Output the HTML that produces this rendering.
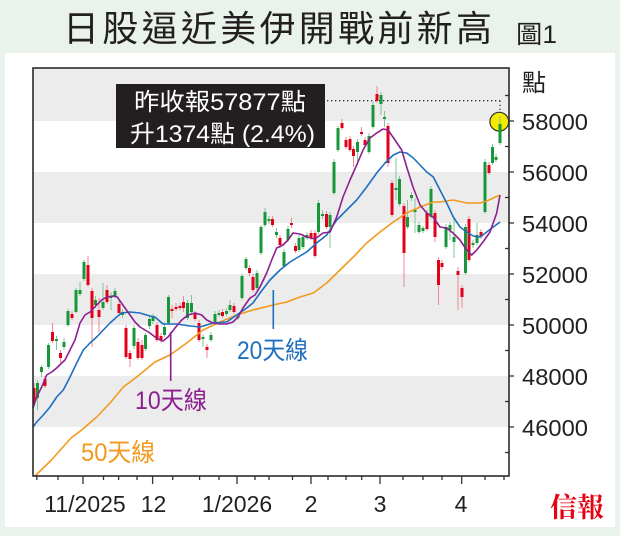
<!DOCTYPE html>
<html><head><meta charset="utf-8"><style>
html,body{margin:0;padding:0;background:#e9f3eb;}
svg{display:block;}
text{font-family:"Liberation Sans","Noto Sans CJK TC",sans-serif;}
</style></head><body>
<svg width="620" height="536" viewBox="0 0 620 536" xmlns="http://www.w3.org/2000/svg">
<rect x="0" y="0" width="620" height="536" fill="#e9f3eb"/>
<text x="63" y="41" font-size="36" fill="#231f20" textLength="429" lengthAdjust="spacing">日股逼近美伊開戰前新高</text>
<text x="516" y="43" font-size="25" fill="#231f20" textLength="41" lengthAdjust="spacingAndGlyphs">圖1</text>
<rect x="5" y="53" width="610" height="474" fill="#ffffff"/>
<!-- bands -->
<rect x="33" y="68" width="476" height="53" fill="#ebeceb"/>
<rect x="33" y="172" width="476" height="51" fill="#ebeceb"/>
<rect x="33" y="274" width="476" height="51" fill="#ebeceb"/>
<rect x="33" y="376" width="476" height="51" fill="#ebeceb"/>
<!-- ticks y -->
<g stroke="#333" stroke-width="1.3">
<line x1="509" y1="121" x2="514" y2="121"/><line x1="509" y1="172" x2="514" y2="172"/><line x1="509" y1="223" x2="514" y2="223"/><line x1="509" y1="274" x2="514" y2="274"/><line x1="509" y1="325" x2="514" y2="325"/><line x1="509" y1="376" x2="514" y2="376"/><line x1="509" y1="427" x2="514" y2="427"/>
<line x1="505" y1="95.5" x2="509" y2="95.5"/><line x1="505" y1="146.5" x2="509" y2="146.5"/><line x1="505" y1="197.5" x2="509" y2="197.5"/><line x1="505" y1="248.5" x2="509" y2="248.5"/><line x1="505" y1="299.5" x2="509" y2="299.5"/><line x1="505" y1="350.5" x2="509" y2="350.5"/><line x1="505" y1="401.5" x2="509" y2="401.5"/><line x1="505" y1="452.5" x2="509" y2="452.5"/>
<!-- x ticks -->
<line x1="83" y1="476" x2="83" y2="484"/><line x1="152.6" y1="476" x2="152.6" y2="484"/><line x1="237" y1="476" x2="237" y2="484"/><line x1="311" y1="476" x2="311" y2="484"/><line x1="380" y1="476" x2="380" y2="484"/><line x1="461.7" y1="476" x2="461.7" y2="484"/>
<line x1="36.8" y1="476" x2="36.8" y2="480"/><line x1="58" y1="476" x2="58" y2="480"/><line x1="103.5" y1="476" x2="103.5" y2="480"/><line x1="118.6" y1="476" x2="118.6" y2="480"/><line x1="137" y1="476" x2="137" y2="480"/><line x1="172.7" y1="476" x2="172.7" y2="480"/><line x1="199.6" y1="476" x2="199.6" y2="480"/><line x1="219" y1="476" x2="219" y2="480"/><line x1="255" y1="476" x2="255" y2="480"/><line x1="269" y1="476" x2="269" y2="480"/><line x1="292.5" y1="476" x2="292.5" y2="480"/><line x1="328" y1="476" x2="328" y2="480"/><line x1="346" y1="476" x2="346" y2="480"/><line x1="361.7" y1="476" x2="361.7" y2="480"/><line x1="403" y1="476" x2="403" y2="480"/><line x1="423" y1="476" x2="423" y2="480"/><line x1="442" y1="476" x2="442" y2="480"/><line x1="485" y1="476" x2="485" y2="480"/><line x1="504" y1="476" x2="504" y2="480"/>
</g>
<!-- yellow marker -->
<circle cx="499.3" cy="121.7" r="9.4" fill="#f3ea00" stroke="#333" stroke-width="1.2"/>
<!-- dotted -->
<line x1="327" y1="100.7" x2="500" y2="100.7" stroke="#333" stroke-width="1.3" stroke-dasharray="1.3 2.7"/>
<line x1="500" y1="100.7" x2="500" y2="112" stroke="#333" stroke-width="1.3" stroke-dasharray="1.3 2.7"/>
<!-- wicks red -->
<g stroke="#ee8a95" stroke-width="1">
<line x1="34" y1="383" x2="34" y2="405"/><line x1="45" y1="376" x2="45" y2="388"/><line x1="52.5" y1="323" x2="52.5" y2="343"/><line x1="60.5" y1="350" x2="60.5" y2="363"/><line x1="72" y1="311" x2="72" y2="320"/><line x1="88" y1="256" x2="88" y2="287"/><line x1="92" y1="288" x2="92" y2="347"/><line x1="99" y1="298" x2="99" y2="332"/><line x1="107" y1="285" x2="107" y2="304"/><line x1="119" y1="300" x2="119" y2="315"/><line x1="126" y1="325" x2="126" y2="359"/><line x1="130" y1="350" x2="130" y2="367"/><line x1="138" y1="338" x2="138" y2="360"/><line x1="142" y1="340" x2="142" y2="360"/><line x1="157" y1="322" x2="157" y2="342"/><line x1="161" y1="333" x2="161" y2="343"/><line x1="172" y1="305" x2="172" y2="318"/><line x1="176" y1="303" x2="176" y2="311"/><line x1="180" y1="303" x2="180" y2="310"/><line x1="183.5" y1="296" x2="183.5" y2="312"/><line x1="195" y1="311" x2="195" y2="321"/><line x1="199" y1="320" x2="199" y2="342"/><line x1="207" y1="344" x2="207" y2="358"/><line x1="222.5" y1="309" x2="222.5" y2="318"/><line x1="234" y1="303" x2="234" y2="314"/><line x1="249.5" y1="265" x2="249.5" y2="276"/><line x1="253" y1="274" x2="253" y2="292"/><line x1="272.5" y1="216" x2="272.5" y2="227"/><line x1="280" y1="235" x2="280" y2="248"/><line x1="291.5" y1="218" x2="291.5" y2="228"/><line x1="295.5" y1="243" x2="295.5" y2="253"/><line x1="311" y1="230" x2="311" y2="240"/><line x1="315" y1="230" x2="315" y2="258"/><line x1="326.5" y1="211" x2="326.5" y2="229"/><line x1="342" y1="119" x2="342" y2="130"/><line x1="346" y1="137" x2="346" y2="149"/><line x1="350" y1="136" x2="350" y2="152"/><line x1="353.5" y1="146" x2="353.5" y2="167"/><line x1="361.5" y1="127" x2="361.5" y2="136"/><line x1="365" y1="137" x2="365" y2="147"/><line x1="377" y1="86" x2="377" y2="103"/><line x1="388" y1="123" x2="388" y2="167"/><line x1="392" y1="180" x2="392" y2="217"/><line x1="404" y1="203" x2="404" y2="287"/><line x1="427" y1="210" x2="427" y2="231"/><line x1="435" y1="210" x2="435" y2="242"/><line x1="438.5" y1="257" x2="438.5" y2="305"/><line x1="442" y1="260" x2="442" y2="270"/><line x1="458" y1="267" x2="458" y2="310"/><line x1="462" y1="285" x2="462" y2="308"/><line x1="469" y1="216" x2="469" y2="262"/><line x1="481" y1="229" x2="481" y2="239"/><line x1="489" y1="162" x2="489" y2="175"/>
</g>
<!-- wicks green -->
<g stroke="#80c995" stroke-width="1">
<line x1="37.5" y1="380" x2="37.5" y2="410"/><line x1="41.5" y1="365" x2="41.5" y2="377"/><line x1="48.5" y1="343" x2="48.5" y2="369"/><line x1="56.5" y1="336" x2="56.5" y2="350"/><line x1="64" y1="338" x2="64" y2="350"/><line x1="68" y1="309" x2="68" y2="327"/><line x1="76" y1="288" x2="76" y2="313"/><line x1="80" y1="282" x2="80" y2="296"/><line x1="84" y1="260" x2="84" y2="281"/><line x1="95.5" y1="296" x2="95.5" y2="308"/><line x1="103" y1="283" x2="103" y2="310"/><line x1="111" y1="292" x2="111" y2="310"/><line x1="115" y1="288" x2="115" y2="298"/><line x1="122.5" y1="309" x2="122.5" y2="318"/><line x1="134" y1="325" x2="134" y2="349"/><line x1="145.5" y1="333" x2="145.5" y2="351"/><line x1="149.5" y1="316" x2="149.5" y2="329"/><line x1="153" y1="314" x2="153" y2="324"/><line x1="164.5" y1="322" x2="164.5" y2="337"/><line x1="168.5" y1="295" x2="168.5" y2="325"/><line x1="187.5" y1="300" x2="187.5" y2="320"/><line x1="191.5" y1="295" x2="191.5" y2="314"/><line x1="203" y1="334" x2="203" y2="347"/><line x1="211" y1="332" x2="211" y2="342"/><line x1="215" y1="311" x2="215" y2="324"/><line x1="219" y1="310" x2="219" y2="317"/><line x1="226.5" y1="308" x2="226.5" y2="316"/><line x1="230" y1="300" x2="230" y2="312"/><line x1="238" y1="313" x2="238" y2="320"/><line x1="242" y1="274" x2="242" y2="300"/><line x1="246" y1="257" x2="246" y2="270"/><line x1="257" y1="270" x2="257" y2="290"/><line x1="261" y1="225" x2="261" y2="255"/><line x1="265" y1="208" x2="265" y2="227"/><line x1="269" y1="216" x2="269" y2="224"/><line x1="276.5" y1="228" x2="276.5" y2="238"/><line x1="284" y1="249" x2="284" y2="268"/><line x1="288" y1="226" x2="288" y2="242"/><line x1="299" y1="235" x2="299" y2="252"/><line x1="303" y1="234" x2="303" y2="249"/><line x1="307" y1="232" x2="307" y2="240"/><line x1="318.5" y1="200" x2="318.5" y2="234"/><line x1="322.5" y1="210" x2="322.5" y2="219"/><line x1="330" y1="212" x2="330" y2="248"/><line x1="334" y1="159" x2="334" y2="195"/><line x1="338" y1="126" x2="338" y2="152"/><line x1="357.5" y1="139" x2="357.5" y2="165"/><line x1="369" y1="133" x2="369" y2="154"/><line x1="373" y1="102" x2="373" y2="129"/><line x1="381" y1="92" x2="381" y2="115"/><line x1="384.5" y1="111" x2="384.5" y2="127"/><line x1="396" y1="158" x2="396" y2="200"/><line x1="399.5" y1="176" x2="399.5" y2="206"/><line x1="407.5" y1="200" x2="407.5" y2="229"/><line x1="411.5" y1="192" x2="411.5" y2="201"/><line x1="415" y1="198" x2="415" y2="233"/><line x1="419" y1="222" x2="419" y2="234"/><line x1="423" y1="226" x2="423" y2="233"/><line x1="431" y1="186" x2="431" y2="219"/><line x1="446" y1="224" x2="446" y2="249"/><line x1="450" y1="222" x2="450" y2="240"/><line x1="454" y1="217" x2="454" y2="258"/><line x1="465.5" y1="224" x2="465.5" y2="275"/><line x1="473" y1="240" x2="473" y2="248"/><line x1="477" y1="223" x2="477" y2="245"/><line x1="485" y1="159" x2="485" y2="214"/><line x1="492.5" y1="144" x2="492.5" y2="165"/><line x1="496" y1="154" x2="496" y2="162"/><line x1="500" y1="116" x2="500" y2="145"/>
</g>
<!-- red bodies -->
<g fill="#e3001b">
<rect x="32.5" y="388" width="3" height="15"/><rect x="43.5" y="379" width="3" height="7"/><rect x="51" y="332" width="3" height="9"/><rect x="59" y="353" width="3" height="5"/><rect x="70.5" y="314" width="3" height="4"/><rect x="86.5" y="265" width="3" height="20"/><rect x="90.5" y="291" width="3" height="27"/><rect x="97.5" y="310" width="3" height="7"/><rect x="105.5" y="290" width="3" height="12"/><rect x="117.5" y="304" width="3" height="9"/><rect x="124.5" y="328" width="3" height="29"/><rect x="128.5" y="353" width="3" height="6"/><rect x="136.5" y="342" width="3" height="16"/><rect x="140.5" y="345" width="3" height="13"/><rect x="155.5" y="325" width="3" height="15"/><rect x="159.5" y="336" width="3" height="4"/><rect x="170.5" y="309" width="3" height="2"/><rect x="174.5" y="307" width="3" height="2"/><rect x="178.5" y="306" width="3" height="2"/><rect x="182" y="302" width="3" height="6"/><rect x="193.5" y="314" width="3" height="5"/><rect x="197.5" y="323" width="3" height="17"/><rect x="205.5" y="347" width="3" height="3"/><rect x="221" y="312" width="3" height="4"/><rect x="232.5" y="306" width="3" height="6"/><rect x="248" y="268" width="3" height="5"/><rect x="251.5" y="277" width="3" height="13"/><rect x="271" y="219" width="3" height="6"/><rect x="278.5" y="238" width="3" height="7"/><rect x="290" y="223" width="3" height="2"/><rect x="294" y="246" width="3" height="5"/><rect x="309.5" y="233" width="3" height="5"/><rect x="313.5" y="233" width="3" height="23"/><rect x="325" y="214" width="3" height="13"/><rect x="340.5" y="123" width="3" height="5"/><rect x="344.5" y="140" width="3" height="7"/><rect x="348.5" y="139" width="3" height="11"/><rect x="352" y="149" width="3" height="7"/><rect x="360" y="132" width="3" height="2"/><rect x="363.5" y="140" width="3" height="5"/><rect x="375.5" y="94" width="3" height="7"/><rect x="386.5" y="126" width="3" height="37"/><rect x="390.5" y="183" width="3" height="32"/><rect x="402.5" y="206" width="3" height="47"/><rect x="425.5" y="213" width="3" height="16"/><rect x="433.5" y="213" width="3" height="24"/><rect x="437" y="260" width="3" height="25"/><rect x="440.5" y="263" width="3" height="4"/><rect x="456.5" y="271" width="3" height="4"/><rect x="460.5" y="288" width="3" height="9"/><rect x="467.5" y="219" width="3" height="41"/><rect x="479.5" y="232" width="3" height="5"/><rect x="487.5" y="165" width="3" height="8"/>
</g>
<!-- green bodies -->
<g fill="#17963a">
<rect x="36" y="383" width="3" height="15"/><rect x="40" y="367" width="3" height="5"/><rect x="47" y="345" width="3" height="22"/><rect x="55" y="339" width="3" height="2"/><rect x="62.5" y="342" width="3" height="5"/><rect x="66.5" y="311" width="3" height="14"/><rect x="74.5" y="290" width="3" height="22"/><rect x="78.5" y="290" width="3" height="4"/><rect x="82.5" y="262" width="3" height="17"/><rect x="94" y="300" width="3" height="5"/><rect x="101.5" y="302" width="3" height="6"/><rect x="109.5" y="296" width="3" height="2"/><rect x="113.5" y="291" width="3" height="5"/><rect x="121" y="312" width="3" height="3"/><rect x="132.5" y="328" width="3" height="18"/><rect x="144" y="335" width="3" height="14"/><rect x="148" y="319" width="3" height="7"/><rect x="151.5" y="317" width="3" height="4"/><rect x="163" y="327" width="3" height="8"/><rect x="167" y="297" width="3" height="26"/><rect x="186" y="303" width="3" height="15"/><rect x="190" y="303" width="3" height="9"/><rect x="201.5" y="337" width="3" height="2"/><rect x="209.5" y="335" width="3" height="5"/><rect x="213.5" y="314" width="3" height="8"/><rect x="217.5" y="313" width="3" height="2"/><rect x="225" y="311" width="3" height="3"/><rect x="228.5" y="305" width="3" height="5"/><rect x="236.5" y="316" width="3" height="2"/><rect x="240.5" y="276" width="3" height="22"/><rect x="244.5" y="259" width="3" height="9"/><rect x="255.5" y="273" width="3" height="15"/><rect x="259.5" y="227" width="3" height="26"/><rect x="263.5" y="212" width="3" height="13"/><rect x="267.5" y="219" width="3" height="2"/><rect x="275" y="232" width="3" height="3"/><rect x="282.5" y="252" width="3" height="14"/><rect x="286.5" y="229" width="3" height="11"/><rect x="297.5" y="238" width="3" height="12"/><rect x="301.5" y="237" width="3" height="10"/><rect x="305.5" y="235" width="3" height="3"/><rect x="317" y="203" width="3" height="29"/><rect x="321" y="214" width="3" height="2"/><rect x="328.5" y="215" width="3" height="12"/><rect x="332.5" y="162" width="3" height="31"/><rect x="336.5" y="128" width="3" height="22"/><rect x="356" y="142" width="3" height="10"/><rect x="367.5" y="136" width="3" height="16"/><rect x="371.5" y="105" width="3" height="22"/><rect x="379.5" y="95" width="3" height="9"/><rect x="383" y="117" width="3" height="2"/><rect x="394.5" y="188" width="3" height="2"/><rect x="398" y="179" width="3" height="25"/><rect x="406" y="217" width="3" height="10"/><rect x="410" y="195" width="3" height="3"/><rect x="413.5" y="210" width="3" height="2"/><rect x="417.5" y="225" width="3" height="7"/><rect x="421.5" y="228" width="3" height="3"/><rect x="429.5" y="189" width="3" height="28"/><rect x="444.5" y="227" width="3" height="20"/><rect x="448.5" y="225" width="3" height="5"/><rect x="452.5" y="237" width="3" height="5"/><rect x="464" y="227" width="3" height="46"/><rect x="471.5" y="243" width="3" height="2"/><rect x="475.5" y="235" width="3" height="8"/><rect x="483.5" y="162" width="3" height="50"/><rect x="491" y="147" width="3" height="16"/><rect x="494.5" y="157" width="3" height="3"/><rect x="498.5" y="124" width="3" height="19"/>
</g>
<!-- moving averages -->
<polyline fill="none" stroke="#f39a1e" stroke-width="1.6" stroke-linejoin="round" points="35,476 51.4,460 71,438 81.7,430 96.7,417 110,403 123.3,387 136.7,377 155,362 170,355 186.7,343 203,330 220,322 236.7,315 253,310 273,305 286.7,302 300,297 313.3,293 326.7,283 340,270 353.3,257 366.7,243 380,232 393.3,222 406.7,213 420,207 433.3,202 440,202 453.3,200 466.7,203 480,203 486.7,201 493.3,198 500,195"/>
<polyline fill="none" stroke="#1f6fc0" stroke-width="1.6" stroke-linejoin="round" points="33,427 36.7,422 43.3,415 50,407 56.7,397 63.3,390 70,377 76.7,363 83.3,350 90,343 96.7,337 103.3,330 110,323 116.7,317 121.7,313 130,312 140,313 150,316 155,317 163,324 176.7,324 190,326 200,327 213,323 226.7,322 236.7,315 246.7,308 253,303 260,293 270,280 280,270 290,262 300,256 306.7,252 316.7,243 326.7,235 336.7,220 346.7,210 356.7,200 366.7,187 376.7,173 385,163 393.3,155 400,152 406.7,153 413.3,158 420,165 426.7,172 433.3,177 440,190 446.7,203 453.3,217 460,227 466.7,232 473.3,236 480,237 486.7,232 493.3,227 500,222"/>
<polyline fill="none" stroke="#8e1f8f" stroke-width="1.6" stroke-linejoin="round" points="33,408 36.7,397 41.7,387 46.7,375 51.7,372 56.7,368 61.7,363 65,360 70,350 75,340 80,323 85,315 90,312 96.7,305 101.7,300 106.7,297 113.3,296 117.3,297 120.7,302 125,308 130,315 135,322 140,327 145,330 150,333 155,337 160,340 163,341 168,337 175,328 181.7,320 188,315 195,313 201.7,315 206.7,320 213,323 220,324 226.7,324 233,322 238,317 243,308 250,298 255,295 260,287 266.7,273 271.7,260 276.7,248 283,245 288,240 293,233 300,234 306.7,237 315,239 323,233 330,232 336.7,217 343,197 350,180 356.7,165 363,150 370,138 376.7,133 383,129 388,130 395,140 401.7,150 406.7,167 413,187 420,205 426.7,213 433,217 440,227 446.7,228 453,233 460,240 466.7,250 471.7,255 476.7,250 483,242 490,232 496.7,213 500,195"/>
<!-- pointers -->
<line x1="170.7" y1="332" x2="170.7" y2="381" stroke="#8e1f8f" stroke-width="1.6"/>
<line x1="273.3" y1="290" x2="273.3" y2="329" stroke="#1f6fc0" stroke-width="1.6"/>
<!-- frame -->
<rect x="33" y="68" width="476" height="408" fill="none" stroke="#2b2b2b" stroke-width="1.6"/>
<!-- annotation box -->
<rect x="116" y="84" width="209" height="64" fill="#231f20"/>
<text x="134" y="110" font-size="24" fill="#ffffff" textLength="172" lengthAdjust="spacingAndGlyphs">昨收報57877點</text>
<text x="130" y="142" font-size="24" fill="#ffffff" textLength="185" lengthAdjust="spacingAndGlyphs">升1374點 (2.4%)</text>
<!-- MA labels -->
<text x="135" y="409" font-size="25" fill="#8e1f8f" textLength="72" lengthAdjust="spacingAndGlyphs">10天線</text>
<text x="237" y="359" font-size="25" fill="#1f6fc0" textLength="71" lengthAdjust="spacingAndGlyphs">20天線</text>
<text x="81" y="461" font-size="25" fill="#f39a1e" textLength="74" lengthAdjust="spacingAndGlyphs">50天線</text>
<!-- y labels -->
<g font-size="23" fill="#231f20">
<text x="522" y="91" font-size="24">點</text>
<text x="522" y="130" textLength="66" lengthAdjust="spacingAndGlyphs">58000</text>
<text x="522" y="181" textLength="66" lengthAdjust="spacingAndGlyphs">56000</text>
<text x="522" y="232" textLength="66" lengthAdjust="spacingAndGlyphs">54000</text>
<text x="522" y="283" textLength="66" lengthAdjust="spacingAndGlyphs">52000</text>
<text x="522" y="334" textLength="66" lengthAdjust="spacingAndGlyphs">50000</text>
<text x="522" y="385" textLength="66" lengthAdjust="spacingAndGlyphs">48000</text>
<text x="522" y="436" textLength="66" lengthAdjust="spacingAndGlyphs">46000</text>
</g>
<!-- x labels -->
<g font-size="23" fill="#231f20" text-anchor="middle">
<text x="85" y="512">11/2025</text>
<text x="153.5" y="512">12</text>
<text x="237" y="512">1/2026</text>
<text x="311" y="512">2</text>
<text x="380" y="512">3</text>
<text x="461" y="512">4</text>
</g>
<!-- logo -->
<text x="550" y="517" font-size="27" font-weight="bold" fill="#e60012" style="font-family:'Noto Serif CJK SC','Noto Serif CJK TC',serif" textLength="54" lengthAdjust="spacingAndGlyphs">信報</text>
</svg>
</body></html>
